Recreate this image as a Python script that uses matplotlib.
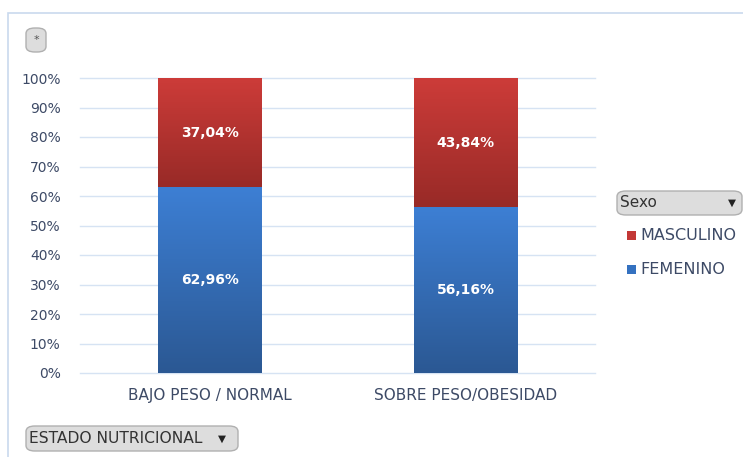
import numpy as np
import matplotlib
matplotlib.use("Agg")
import matplotlib.pyplot as plt
import matplotlib.ticker as ticker
from matplotlib.colors import LinearSegmentedColormap
from matplotlib.patches import FancyBboxPatch, Rectangle

categories = ["BAJO PESO / NORMAL", "SOBRE PESO/OBESIDAD"]
femenino = [62.96, 56.16]
masculino = [37.04, 43.84]
series_labels = ["MASCULINO", "FEMENINO"]

TXT = "#3d4a66"
W, H = 743, 457

fig = plt.figure(figsize=(W / 100, H / 100), dpi=100)
ax = fig.add_axes([80 / W, 1 - 373 / H, 515 / W, 295 / H])

# outer chart frame
fig.add_artist(Rectangle((8 / W, -0.01), 1, 1 - 13 / H + 0.01, transform=fig.transFigure,
                         fill=False, edgecolor="#c9d9ee", linewidth=1.2))

x = np.arange(len(categories))
bw = 0.405
b_fem = ax.bar(x, femenino, bw, color="none", edgecolor="none")
b_mas = ax.bar(x, masculino, bw, bottom=femenino, color="none", edgecolor="none")

blue_cm = LinearSegmentedColormap.from_list("b", ["#2b5893", "#3d7fd4"])
red_cm = LinearSegmentedColormap.from_list("r", ["#982a27", "#cd3c39"])
grad = np.linspace(0, 1, 256).reshape(-1, 1)
for bars, cm in ((b_fem, blue_cm), (b_mas, red_cm)):
    for p in bars:
        x0, y0 = p.get_x(), p.get_y()
        w, h = p.get_width(), p.get_height()
        im = ax.imshow(grad, cmap=cm, aspect="auto", origin="lower",
                       extent=(x0, x0 + w, y0, y0 + h), zorder=2)
        im.set_clip_path(p)

for i in range(len(categories)):
    ax.text(x[i], femenino[i] / 2, f"{femenino[i]:.2f}%".replace(".", ","),
            ha="center", va="center", color="white", fontsize=10, fontweight="bold", zorder=3)
    ax.text(x[i], femenino[i] + masculino[i] / 2, f"{masculino[i]:.2f}%".replace(".", ","),
            ha="center", va="center", color="white", fontsize=10, fontweight="bold", zorder=3)

ax.set_xlim(-0.507, 1.504)
ax.set_ylim(0, 100)
ax.yaxis.set_major_locator(ticker.MultipleLocator(10))
ax.yaxis.set_major_formatter(ticker.FuncFormatter(lambda v, _: f"{v:.0f}%"))
ax.set_xticks(x)
ax.set_xticklabels(categories)
ax.tick_params(axis="both", length=0, labelcolor=TXT)
ax.tick_params(axis="y", labelsize=10, pad=14)
ax.tick_params(axis="x", labelsize=11, pad=11)
ax.grid(axis="y", color="#d6e3f3", linewidth=1)
ax.set_axisbelow(True)
for s in ax.spines.values():
    s.set_visible(False)
for gl in ax.get_ygridlines():
    gl.set_clip_on(False)


def button(x0, y0, x1, y1, label, arrow=True, ha="left", fs=10.5, arrow_off=14):
    fig.add_artist(FancyBboxPatch((x0 / W, 1 - y1 / H), (x1 - x0) / W, (y1 - y0) / H,
                                  boxstyle="round,pad=0,rounding_size=0.012",
                                  transform=fig.transFigure, facecolor="#dddddd",
                                  edgecolor="#b0b0b0", linewidth=1))
    if ha == "center":
        fig.text((x0 + x1) / 2 / W, 1 - (y0 + y1) / 2 / H, label, ha="center", va="center",
                 fontsize=8, color="#555555")
    else:
        fig.text((x0 + 3) / W, 1 - (y0 + y1) / 2 / H, label, ha="left", va="center",
                 fontsize=fs, color="#333333")
    if arrow:
        fig.text((x1 - arrow_off) / W, 1 - (y0 + y1) / 2 / H, "▼", ha="center", va="center",
                 fontsize=7.5, color="#222222")


button(26, 28, 46, 52, "*", arrow=False, ha="center")
button(26, 426, 238, 451, "ESTADO NUTRICIONAL", fs=11.2, arrow_off=16)
button(617, 191, 742, 215, "Sexo", fs=11, arrow_off=10)

# legend
leg_cols = ["#c33836", "#3471c0"]
for i, (lab, c) in enumerate(zip(series_labels, leg_cols)):
    yc = 236 + i * 34
    fig.add_artist(Rectangle((627 / W, 1 - (yc + 4) / H), 9 / W, 9 / H,
                             transform=fig.transFigure, facecolor=c, edgecolor="none"))
    fig.text(640 / W, 1 - yc / H, lab, ha="left", va="center", fontsize=11.5, color=TXT)

fig.savefig("out.png", dpi=100, facecolor="white")
